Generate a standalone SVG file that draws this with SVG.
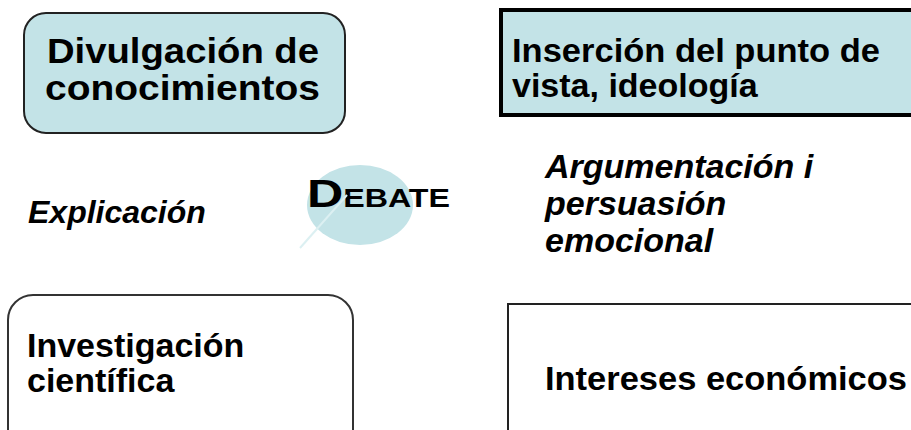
<svg xmlns="http://www.w3.org/2000/svg" width="911" height="430" viewBox="0 0 911 430">
<style>
.t{font-family:"Liberation Sans",Arial,sans-serif;font-weight:bold;fill:#000;}
.it{font-style:italic;}
.fill{fill:#c3e3e7;}
</style>
<rect width="911" height="430" fill="#fff"/>
<g id="divulgacion">
<rect x="24" y="13" width="321" height="120" rx="22" class="fill" stroke="#222" stroke-width="2"/>
<text class="t" font-size="35" x="47" y="63" textLength="272" lengthAdjust="spacingAndGlyphs">Divulgación de</text>
<text class="t" font-size="35" x="45" y="100" textLength="275" lengthAdjust="spacingAndGlyphs">conocimientos</text>
</g>
<g id="insercion">
<rect x="501" y="10" width="420" height="105" class="fill" stroke="#000" stroke-width="4"/>
<text class="t" font-size="34" x="512" y="62" textLength="368" lengthAdjust="spacingAndGlyphs">Inserción del punto de</text>
<text class="t" font-size="34" x="512" y="97">vista, ideología</text>
</g>
<g id="explicacion">
<text class="t it" font-size="32" x="28" y="223">Explicación</text>
</g>
<g id="debate">
<ellipse cx="360" cy="205" rx="53" ry="40" fill="#c3e3e7"/>
<text class="t" x="307" y="207" textLength="143" lengthAdjust="spacingAndGlyphs"><tspan font-size="39">D</tspan><tspan font-size="25">EBATE</tspan></text>
</g>
<g id="argumentacion">
<text class="t it" font-size="34" x="545" y="178">Argumentación i</text>
<text class="t it" font-size="34" x="545" y="215">persuasión</text>
<text class="t it" font-size="34" x="545" y="252">emocional</text>
</g>
<g id="investigacion">
<rect x="8" y="295" width="345" height="160" rx="25" fill="#fff" stroke="#333" stroke-width="2"/>
<text class="t" font-size="34" x="27" y="357">Investigación</text>
<text class="t" font-size="34" x="27" y="392">científica</text>
</g>
<g id="intereses">
<rect x="508" y="304" width="420" height="160" fill="#fff" stroke="#222" stroke-width="2"/>
<text class="t" font-size="34" x="545" y="390" textLength="362" lengthAdjust="spacingAndGlyphs">Intereses económicos</text>
</g>
<g id="connectors">
<line x1="300" y1="248" x2="347" y2="195" stroke="#dcf0f2" stroke-width="2"/>
</g>
</svg>
